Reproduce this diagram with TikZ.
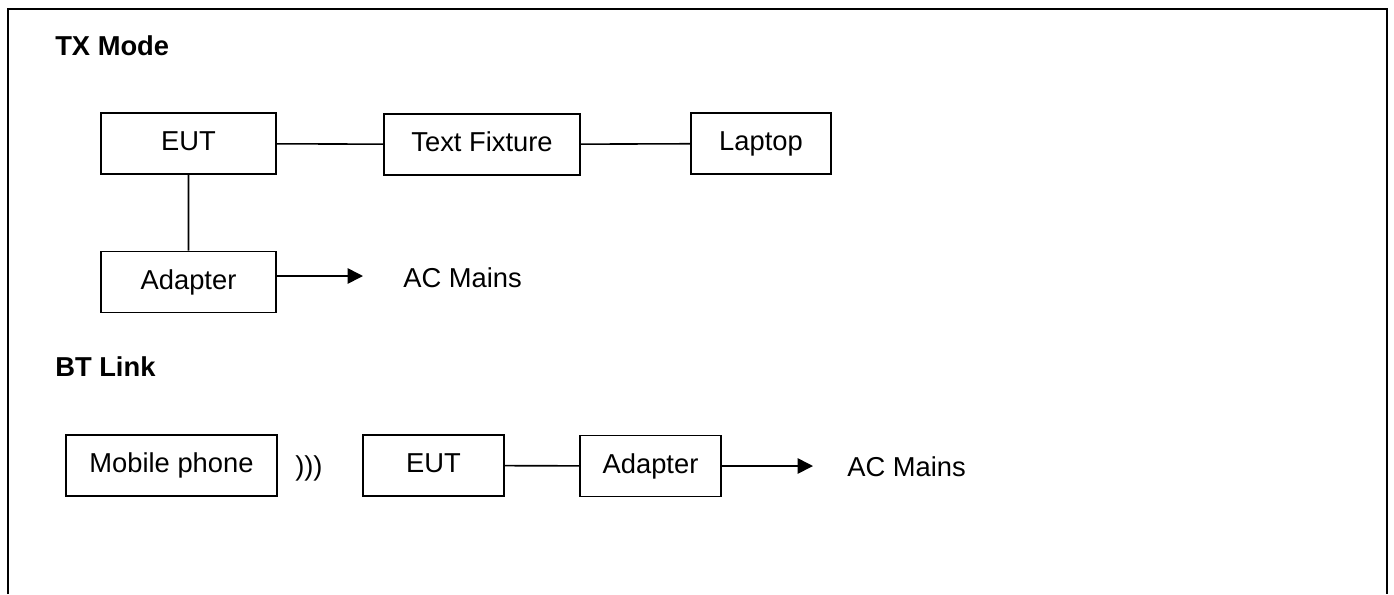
\documentclass[tikz,border=0pt]{standalone}
\usepackage{fontspec}
\setmainfont{Liberation Sans}
\usetikzlibrary{arrows.meta}
\newcommand{\lblsize}{\fontsize{20.5}{24}\selectfont}
\tikzset{>={Triangle[length=11.5pt,width=11.5pt]},
unit/.style={draw, line width=1.3pt, minimum height=45.75pt, text height=15.5pt, text depth=4.5pt, inner sep=0pt, font=\lblsize},
wire/.style={line width=1.2pt},
heading/.style={anchor=base west, inner sep=0pt, font=\lblsize\bfseries},
plain/.style={anchor=base west, inner sep=0pt, font=\lblsize},
}

\begin{document}
\begin{tikzpicture}[x=0.75pt, y=-0.75pt]
    \useasboundingbox (0,0) rectangle (1394,594);
    \draw[line width=1.8pt] (8,594) -- (8,9) -- (1387,9) -- (1387,594);

    % TX mode
    \node[heading] (txhead) at (55,55) {TX Mode};
    \node[unit, minimum width=131.25pt] (eut) at (188.5,143.5) {EUT};
    \node[unit, minimum width=147pt] (fixture) at (482,144.5) {Text Fixture};
    \node[unit, minimum width=105pt] (laptop) at (761,143.5) {Laptop};
    \node[unit, minimum width=131.25pt] (adp) at (188.5,282) {Adapter};
    \node[plain] (mains) at (403,287) {AC Mains};
    \coordinate (tipA) at (363,276);

    \draw[wire]
    (eut) -- (fixture)
    (fixture) -- (laptop)
    (eut) -- (adp)
    ;
    \draw[wire,->] (tipA -| adp.east) -- (tipA);

    % BT link
    \node[heading] (bthead) at (55,376) {BT Link};
    \node[unit, minimum width=158.25pt] (phone) at (171.5,465.5) {Mobile phone};
    \node[plain] (radio) at (295,475) {)))};
    \node[unit, minimum width=105.75pt] (eutb) at (433.5,465.5) {EUT};
    \node[unit, minimum width=105.75pt] (adpb) at (650.5,466) {Adapter};
    \node[plain] (mainsb) at (847,476) {AC Mains};
    \coordinate (tipB) at (813,466);

    \draw[wire]
    (eutb) -- (adpb)
    ;
    \draw[wire,->] (tipB -| adpb.east) -- (tipB);
\end{tikzpicture}
\end{document}
